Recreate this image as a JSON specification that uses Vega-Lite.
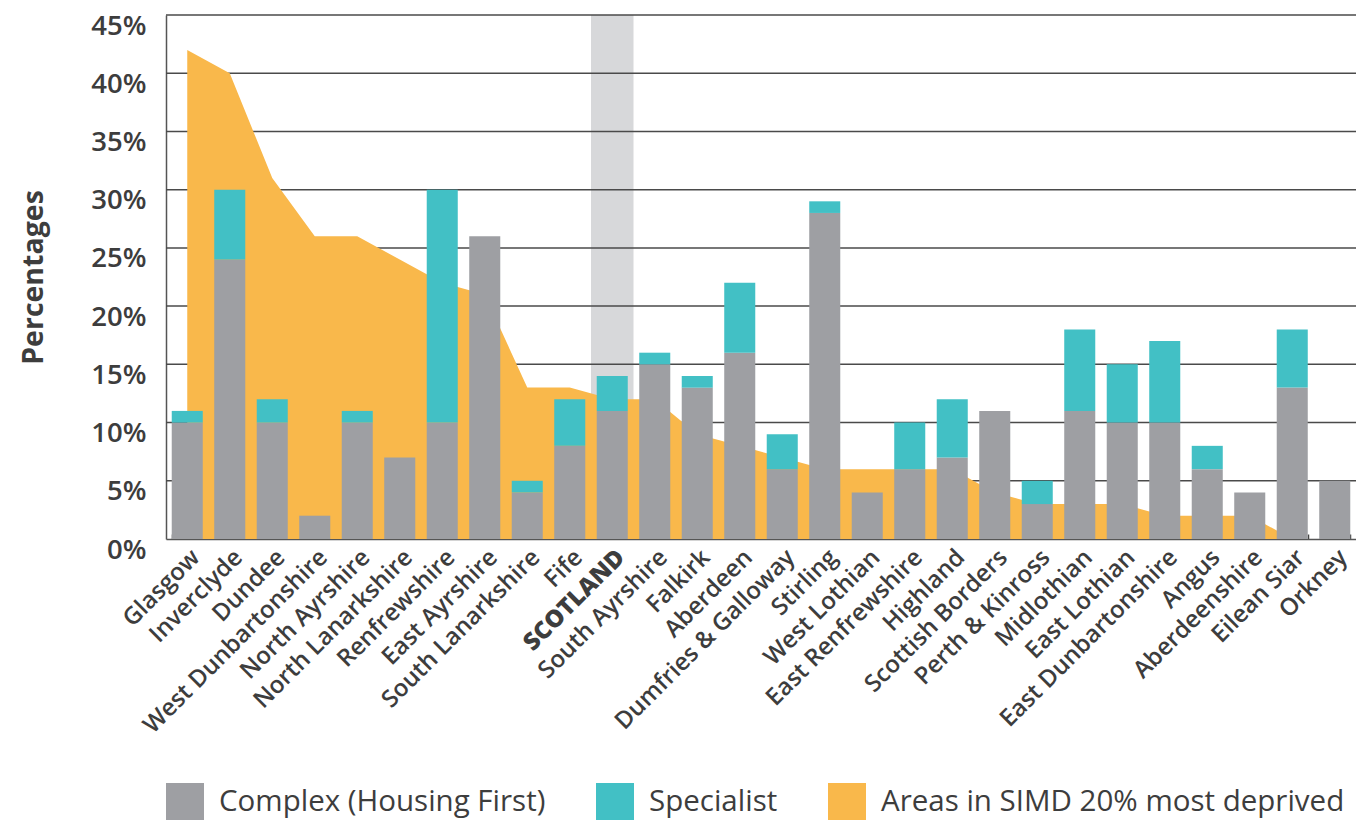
{
  "$schema": "https://vega.github.io/schema/vega-lite/v6.json",
  "width": 1190,
  "height": 524,
  "autosize": {"type": "none"},
  "padding": {"left": 166, "top": 15, "right": 0, "bottom": 281},
  "background": "white",
  "config": {
    "view": {"stroke": null},
    "font": "Open Sans",
    "axisX": {
      "grid": false,
      "ticks": true,
      "tickBand": "extent",
      "tickSize": -5,
      "tickColor": "#444444",
      "tickWidth": 1.5,
      "domainColor": "#555555",
      "domainWidth": 1.5,
      "labelAngle": -45,
      "labelFont": "Open Sans",
      "labelFontSize": 24,
      "labelFontWeight": 600,
      "labelColor": "#3d3d3d",
      "labelPadding": 11,
      "labelLimit": 400,
      "labelOverlap": false
    },
    "axisY": {
      "grid": false,
      "ticks": false,
      "domainColor": "#555555",
      "domainWidth": 1.5,
      "labelFont": "Open Sans",
      "labelFontSize": 27.5,
      "labelFontWeight": 600,
      "labelColor": "#3d3d3d",
      "labelPadding": 20,
      "labelBaseline": "top",
      "labelOffset": -3,
      "titleFont": "Open Sans",
      "titleFontSize": 28.5,
      "titleFontWeight": "bold",
      "titleColor": "#3d3d3d",
      "titlePadding": 42
    },
    "legend": {
      "symbolType": "square",
      "symbolSize": 1444,
      "symbolStrokeWidth": 0,
      "symbolOpacity": 1,
      "labelFont": "Open Sans",
      "labelFontSize": 29.5,
      "labelFontWeight": 500,
      "labelColor": "#3d3d3d",
      "labelOffset": 15,
      "columnPadding": 50,
      "labelLimit": 600
    }
  },
  "datasets": {
    "d": [
      {"area": "Glasgow", "complex": 10, "specialist": 1, "simd": 42},
      {"area": "Inverclyde", "complex": 24, "specialist": 6, "simd": 40},
      {"area": "Dundee", "complex": 10, "specialist": 2, "simd": 31},
      {"area": "West Dunbartonshire", "complex": 2, "specialist": 0, "simd": 26},
      {"area": "North Ayrshire", "complex": 10, "specialist": 1, "simd": 26},
      {"area": "North Lanarkshire", "complex": 7, "specialist": 0, "simd": 24},
      {"area": "Renfrewshire", "complex": 10, "specialist": 20, "simd": 22},
      {"area": "East Ayrshire", "complex": 26, "specialist": 0, "simd": 21},
      {"area": "South Lanarkshire", "complex": 4, "specialist": 1, "simd": 13},
      {"area": "Fife", "complex": 8, "specialist": 4, "simd": 13},
      {"area": "SCOTLAND", "complex": 11, "specialist": 3, "simd": 12},
      {"area": "South Ayrshire", "complex": 15, "specialist": 1, "simd": 12},
      {"area": "Falkirk", "complex": 13, "specialist": 1, "simd": 9},
      {"area": "Aberdeen", "complex": 16, "specialist": 6, "simd": 8},
      {"area": "Dumfries & Galloway", "complex": 6, "specialist": 3, "simd": 7},
      {"area": "Stirling", "complex": 28, "specialist": 1, "simd": 6},
      {"area": "West Lothian", "complex": 4, "specialist": 0, "simd": 6},
      {"area": "East Renfrewshire", "complex": 6, "specialist": 4, "simd": 6},
      {"area": "Highland", "complex": 7, "specialist": 5, "simd": 6},
      {"area": "Scottish Borders", "complex": 11, "specialist": 0, "simd": 4},
      {"area": "Perth & Kinross", "complex": 3, "specialist": 2, "simd": 3},
      {"area": "Midlothian", "complex": 11, "specialist": 7, "simd": 3},
      {"area": "East Lothian", "complex": 10, "specialist": 5, "simd": 3},
      {"area": "East Dunbartonshire", "complex": 10, "specialist": 7, "simd": 2},
      {"area": "Angus", "complex": 6, "specialist": 2, "simd": 2},
      {"area": "Aberdeenshire", "complex": 4, "specialist": 0, "simd": 2},
      {"area": "Eilean Siar", "complex": 13, "specialist": 5, "simd": 0},
      {"area": "Orkney", "complex": 5, "specialist": 0, "simd": 0}
    ],
    "grid": [
      {"g": 5}, {"g": 10}, {"g": 15}, {"g": 20}, {"g": 25},
      {"g": 30}, {"g": 35}, {"g": 40}, {"g": 45}
    ],
    "highlight": [{"area": "SCOTLAND"}]
  },
  "layer": [
    {
      "data": {"name": "highlight"},
      "mark": {"type": "bar", "width": 42.5, "color": "#d7d8da"},
      "encoding": {
        "x": {
          "field": "area",
          "type": "nominal",
          "scale": {
            "domain": ["Glasgow", "Inverclyde", "Dundee", "West Dunbartonshire", "North Ayrshire", "North Lanarkshire", "Renfrewshire", "East Ayrshire", "South Lanarkshire", "Fife", "SCOTLAND", "South Ayrshire", "Falkirk", "Aberdeen", "Dumfries & Galloway", "Stirling", "West Lothian", "East Renfrewshire", "Highland", "Scottish Borders", "Perth & Kinross", "Midlothian", "East Lothian", "East Dunbartonshire", "Angus", "Aberdeenshire", "Eilean Siar", "Orkney"],
            "paddingInner": 0.27,
            "paddingOuter": 0.135
          },
          "title": null,
          "axis": {
            "labelFontWeight": {"condition": {"test": "datum.value === 'SCOTLAND'", "value": 800}, "value": 600}
          }
        },
        "y": {"datum": 45, "type": "quantitative", "scale": {"domain": [0, 45], "nice": false}, "title": "Percentages",
          "axis": {"values": [0, 5, 10, 15, 20, 25, 30, 35, 40, 45], "labelExpr": "datum.value + '%'"}},
        "y2": {"datum": 0}
      }
    },
    {
      "data": {"name": "grid"},
      "mark": {"type": "rule", "color": "#4a4a4a", "strokeWidth": 1.5},
      "encoding": {
        "y": {"field": "g", "type": "quantitative", "scale": {"domain": [0, 45], "nice": false}, "title": "Percentages"}
      }
    },
    {
      "data": {"name": "d"},
      "mark": {"type": "area", "interpolate": "linear", "opacity": 1},
      "encoding": {
        "x": {"field": "area", "type": "nominal", "bandPosition": 0.5, "title": null},
        "y": {"field": "simd", "type": "quantitative", "scale": {"domain": [0, 45], "nice": false}, "title": "Percentages"},
        "color": {"datum": "simd"}
      }
    },
    {
      "data": {"name": "d"},
      "transform": [{"fold": ["complex", "specialist"], "as": ["type", "pct"]}],
      "mark": {"type": "bar"},
      "encoding": {
        "x": {"field": "area", "type": "nominal", "title": null},
        "y": {"field": "pct", "type": "quantitative", "stack": "zero", "scale": {"domain": [0, 45], "nice": false}, "title": "Percentages"},
        "order": {"field": "type", "sort": "ascending"},
        "color": {
          "field": "type",
          "type": "nominal",
          "scale": {"domain": ["complex", "specialist", "simd"], "range": ["#9e9fa3", "#42c0c5", "#f9b84b"]},
          "legend": {
            "title": null,
            "orient": "none",
            "direction": "horizontal",
            "legendX": 0,
            "legendY": 768,
            "labelExpr": "datum.label === 'complex' ? 'Complex (Housing First)' : datum.label === 'specialist' ? 'Specialist' : 'Areas in SIMD 20% most deprived'"
          }
        }
      }
    }
  ]
}
